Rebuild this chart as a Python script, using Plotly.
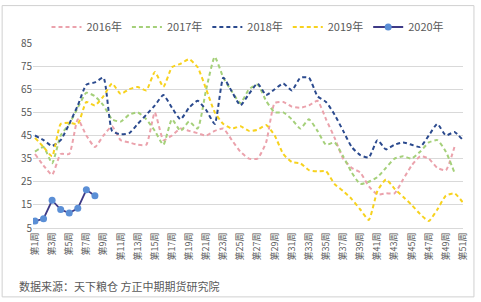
import plotly.graph_objects as go

weeks = [f"第{i}周" for i in range(1, 52)]
tick_labels = [f"第{i}周" for i in range(1, 52, 2)]

s2016 = [37, 32, 28, 37, 37, 52, 45, 40, 45, 49, 43, 42, 41, 41, 55, 43, 45, 48, 47, 46,
         45, 47, 48, 43, 38, 35, 35, 42, 59, 59.5, 57.5, 57, 58, 60, 52, 44, 35, 31, 29, 23,
         19.5, 20, 20, 26, 32, 36, 35, 31, 30, 40]
s2017 = [38, 40, 33, 45, 50, 57, 63.5, 62, 58, 52, 51, 54, 55, 52, 47, 41, 52, 47, 51, 48,
         65, 79, 70, 64, 59, 65, 67, 60, 55, 55, 52, 48, 52, 47, 41, 42, 36, 29, 24, 25,
         27, 31, 35, 36, 35, 38, 42, 43, 38, 29]
s2018 = [45, 43, 40.5, 43, 50, 58, 67, 68, 70, 47, 45.5, 46, 50, 54, 58, 62.5, 57, 52, 57, 60,
         56, 50, 70, 64, 58, 63, 67.5, 62.5, 65, 67.5, 64.5, 70, 70, 62, 59.5, 54, 47, 40, 36.5, 35.5,
         43, 39, 41, 42, 41, 40, 45, 50, 45, 46.5, 43]
s2019 = [44, 40, 36, 50, 50.5, 50, 59.5, 58, 62, 67.5, 63, 65, 66, 64.5, 72.5, 66, 74.5, 76, 78, 74.5,
         65, 55, 50, 48, 49, 47, 47.5, 49.5, 45, 37, 33.5, 33, 30, 29.5, 29.5, 24, 21, 17.5, 13, 8.5,
         21, 26, 22, 18.5, 15, 11, 8, 13, 19, 20, 16]
s2020 = [8, 9, 17, 13, 11.5, 13.5, 21.5, 19]

FONT = "Noto Sans CJK SC, Microsoft YaHei, sans-serif"
GRAY = "#595959"

fig = go.Figure()
series = [
    ("2016年", s2016, "#EBA2AC"),
    ("2017年", s2017, "#A5D07A"),
    ("2018年", s2018, "#2B4A8E"),
    ("2019年", s2019, "#F7D21E"),
]
for name, vals, col in series:
    fig.add_trace(go.Scatter(
        x=weeks[:len(vals)], y=vals, name=name, mode="lines",
        line=dict(color=col, width=2, dash="4px,3px", shape="spline", smoothing=0.5),
    ))
fig.add_trace(go.Scatter(
    x=weeks[:len(s2020)], y=s2020, name="2020年", mode="lines+markers",
    line=dict(color="#3E3A86", width=1.8),
    marker=dict(color="#5B8FD6", size=7, line=dict(width=0)),
))

L, R, T, B = 33, 16, 40, 74
W, H = 481, 302
pw, ph = W - L - R, H - T - B

fig.update_layout(
    width=W, height=H,
    margin=dict(l=L, r=R, t=T, b=B),
    paper_bgcolor="white", plot_bgcolor="white",
    font=dict(family=FONT, color=GRAY, size=10),
    showlegend=True,
    legend=dict(orientation="h", x=0.5, xanchor="center", y=1 + (T - 9) / ph, yanchor="top",
                font=dict(size=11, color=GRAY), itemwidth=30, tracegroupgap=0,
                bgcolor="rgba(0,0,0,0)"),
    xaxis=dict(
        type="category", categoryorder="array", categoryarray=weeks,
        range=[-0.233, 50.0],
        tickmode="array", tickvals=tick_labels, ticktext=tick_labels,
        tickangle=-90, tickfont=dict(size=9, color=GRAY),
        showgrid=False, showline=True, linecolor="#D9D9D9", linewidth=1,
        ticks="", zeroline=False,
    ),
    yaxis=dict(
        range=[5, 85], tickmode="linear", tick0=5, dtick=10,
        showgrid=True, gridcolor="#D9D9D9", gridwidth=1,
        tickfont=dict(size=10, color=GRAY), zeroline=False, showline=False, ticks="",
    ),
    annotations=[dict(
        text="数据来源：天下粮仓 方正中期期货研究院", xref="paper", yref="paper",
        x=(17 - L) / pw, y=-(287 - (T + ph)) / ph, xanchor="left", yanchor="middle",
        showarrow=False, font=dict(size=11, color=GRAY, family=FONT),
    )],
    shapes=[dict(
        type="rect", xref="paper", yref="paper",
        x0=(2 - L) / pw, x1=(476 - L) / pw,
        y0=-(298 - (T + ph)) / ph, y1=(T + ph - 2) / ph,
        line=dict(color="#D0D0D0", width=1), fillcolor="rgba(0,0,0,0)", layer="below",
    )],
)

fig.write_html("out.html")
